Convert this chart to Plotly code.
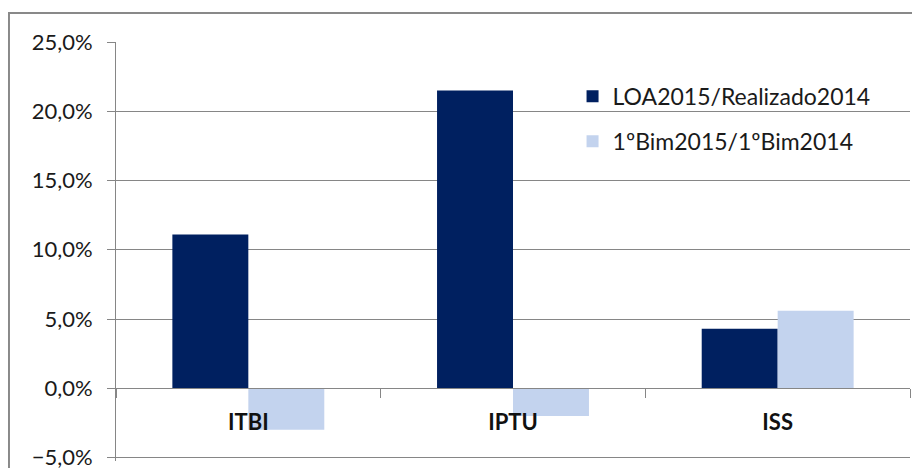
import plotly.graph_objects as go

categories = ["ITBI", "IPTU", "ISS"]
loa_vs_realizado = [0.111, 0.215, 0.043]
bim_vs_bim = [-0.030, -0.020, 0.056]
series_names = ["LOA2015/Realizado2014", "1ºBim2015/1ºBim2014"]
y_ticks = [-0.05, 0.0, 0.05, 0.10, 0.15, 0.20, 0.25]
y_range = [-0.0525, 0.25]

FONT = "Lato"
GRID = "#868686"

fig = go.Figure()
fig.add_trace(go.Bar(
    x=categories, y=loa_vs_realizado, name=series_names[0],
    marker=dict(color="#002060", line=dict(width=0)),
    legendgroup="a",
))
fig.add_trace(go.Bar(
    x=categories, y=bim_vs_bim, name=series_names[1],
    marker=dict(color="#c3d3ee", line=dict(width=0)),
    legendgroup="b",
))

zero_pos = (0 - y_range[0]) / (y_range[1] - y_range[0])

fig.update_layout(
    width=912, height=460,
    margin=dict(l=108, r=10, t=34, b=7, autoexpand=False),
    paper_bgcolor="white", plot_bgcolor="white",
    separators=",.",
    barmode="group", bargap=0.426, bargroupgap=0,
    font=dict(family=FONT, size=22, color="#1a1a1a"),
    showlegend=True,
    legend=dict(
        x=0.575, y=0.9217, xanchor="left", yanchor="top",
        bgcolor="rgba(0,0,0,0)", font=dict(family=FONT, size=23, color="#1a1a1a"),
        tracegroupgap=12, traceorder="grouped",
    ),
    xaxis=dict(
        anchor="free", position=zero_pos, automargin=False,
        showline=True, linecolor=GRID, linewidth=1,
        ticks="outside", tickson="boundaries", ticklen=9, tickcolor=GRID,
        showgrid=False, zeroline=False,
        tickfont=dict(family=FONT, size=22, color="#111", weight="bold"),
        ticklabelstandoff=14,
    ),
    yaxis=dict(
        range=y_range, tickvals=y_ticks, tickformat=".1%", automargin=False,
        showline=True, linecolor=GRID, linewidth=1,
        ticks="outside", ticklen=8, tickcolor=GRID,
        showgrid=True, gridcolor=GRID, gridwidth=1,
        zeroline=False, ticklabeloverflow="allow",
        tickfont=dict(family=FONT, size=22, color="#1a1a1a"),
        ticklabelstandoff=10,
    ),
    shapes=[dict(
        type="rect", xref="paper", yref="paper",
        x0=-0.1348, x1=1.05, y0=-0.1, y1=1.0692,
        line=dict(color="#898989", width=2), layer="above",
    )],
)

fig.write_html("out.html")
